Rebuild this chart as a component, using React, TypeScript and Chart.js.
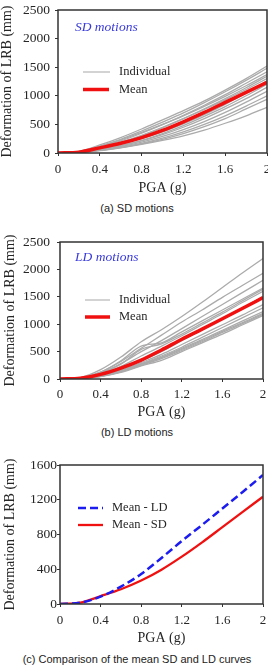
import React, { useEffect, useRef } from "react";
import { Chart, registerables } from "chart.js";

Chart.register(...registerables);

// PGA sampling points (g)
const pga = [0, 0.2, 0.4, 0.6, 0.8, 1.0, 1.2, 1.4, 1.6, 1.8, 2.0];
const pgaTickLabels = ["0", "0.4", "0.8", "1.2", "1.6", "2"];
const deformTickLabels = ["0", "500", "1000", "1500", "2000", "2500"];
const compareTickLabels = ["0", "400", "800", "1200", "1600"];

// LRB deformation (mm) under each short-duration record
const sdMotions = [
  [0, 30, 140, 270, 420, 580, 740, 910, 1100, 1300, 1520],
  [0, 25, 120, 240, 385, 540, 700, 880, 1070, 1270, 1480],
  [0, 20, 100, 210, 345, 495, 660, 835, 1020, 1220, 1420],
  [0, 25, 115, 230, 360, 500, 650, 815, 990, 1175, 1370],
  [0, 15, 80, 180, 300, 440, 600, 770, 950, 1140, 1340],
  [0, 20, 90, 190, 310, 450, 600, 760, 930, 1110, 1300],
  [0, 15, 70, 150, 250, 370, 510, 670, 850, 1050, 1260],
  [0, 10, 60, 130, 220, 340, 480, 640, 810, 1000, 1200],
  [0, 10, 55, 125, 210, 320, 450, 600, 770, 950, 1150],
  [0, 10, 50, 110, 190, 290, 410, 550, 710, 890, 1080],
  [0, 10, 45, 100, 170, 260, 370, 500, 650, 820, 1000],
  [0, 10, 45, 95, 160, 240, 340, 460, 600, 770, 940],
  [0, 10, 40, 90, 150, 220, 300, 400, 520, 650, 800],
];

// LRB deformation (mm) under each long-duration record
const ldMotions = [
  [0, 25, 170, 400, 680, 900, 1140, 1400, 1670, 1940, 2200],
  [0, 20, 130, 320, 560, 800, 1040, 1260, 1490, 1710, 1930],
  [0, 15, 110, 280, 500, 700, 920, 1140, 1360, 1580, 1800],
  [0, 20, 120, 330, 600, 660, 860, 1060, 1260, 1460, 1660],
  [0, 15, 100, 270, 540, 640, 820, 1020, 1220, 1430, 1640],
  [0, 15, 90, 230, 420, 600, 790, 990, 1190, 1400, 1600],
  [0, 10, 70, 180, 330, 500, 700, 900, 1100, 1300, 1500],
  [0, 10, 60, 160, 300, 450, 630, 810, 990, 1170, 1360],
  [0, 10, 60, 150, 280, 420, 580, 760, 940, 1120, 1300],
  [0, 10, 55, 140, 270, 400, 560, 720, 890, 1060, 1230],
  [0, 10, 50, 130, 260, 390, 540, 700, 870, 1030, 1200],
  [0, 10, 50, 130, 250, 370, 520, 680, 850, 1010, 1180],
  [0, 10, 45, 120, 240, 340, 500, 660, 820, 990, 1160],
];

const sdMean = [0, 15, 90, 170, 270, 395, 545, 710, 885, 1060, 1235];
const ldMean = [0, 15, 85, 200, 345, 530, 725, 910, 1100, 1290, 1485];

const SERIF = '"Liberation Serif", "Times New Roman", Times, serif';
const SANS = '"Liberation Sans", Arial, Helvetica, sans-serif';
const INK = "#262626";
const GRAY = "#ababab";
const RED = "#f01010";
const BLUE = "#1c1cf0";
const NOTE_BLUE = "#3a3ad8";

const toPoints = (ys: number[]) => ys.map((y, i) => ({ x: pga[i], y }));

type Inset =
  | { kind: "line"; x1: number; x2: number; y: number; color: string; width: number; dash?: number[] }
  | { kind: "text"; x: number; y: number; text: string; color: string; font: string };

// Draws the full plot frame plus the in-plot key and note (offsets from the plot's top-left corner)
function framePlugin(items: Inset[]) {
  return {
    id: "frameAndKey",
    afterDatasetsDraw(chart: Chart) {
      const { ctx, chartArea: a } = chart;
      ctx.save();
      ctx.strokeStyle = "#333333";
      ctx.lineWidth = 1.5;
      ctx.setLineDash([]);
      ctx.strokeRect(a.left, a.top, a.right - a.left, a.bottom - a.top);
      for (const it of items) {
        if (it.kind === "line") {
          ctx.beginPath();
          ctx.strokeStyle = it.color;
          ctx.lineWidth = it.width;
          ctx.setLineDash(it.dash || []);
          ctx.moveTo(a.left + it.x1, a.top + it.y);
          ctx.lineTo(a.left + it.x2, a.top + it.y);
          ctx.stroke();
        } else {
          ctx.setLineDash([]);
          ctx.fillStyle = it.color;
          ctx.font = it.font;
          ctx.textAlign = "left";
          ctx.textBaseline = "middle";
          ctx.fillText(it.text, a.left + it.x, a.top + it.y);
        }
      }
      ctx.restore();
    },
  };
}

type PanelSpec = {
  datasets: any[];
  yMax: number;
  yStep: number;
  yLabels: string[];
  padTop: number;
  padRight: number;
  yWidth: number;
  xHeight: number;
  yTickPad: number;
  xTickPad: number;
  yTitlePad: number;
  xTitlePad: number;
  insets: Inset[];
};

function buildConfig(p: PanelSpec): any {
  const tickGrid = {
    display: true,
    drawOnChartArea: false,
    drawTicks: true,
    tickLength: 3,
    color: "#333333",
    lineWidth: 1,
  };
  return {
    type: "line",
    data: { datasets: p.datasets },
    plugins: [framePlugin(p.insets)],
    options: {
      responsive: false,
      animation: false,
      events: [],
      layout: { padding: { top: p.padTop, right: p.padRight, left: 0, bottom: 0 } },
      plugins: { legend: { display: false }, tooltip: { enabled: false } },
      elements: { point: { radius: 0 } },
      scales: {
        x: {
          type: "linear",
          min: 0,
          max: 2,
          offset: false,
          grid: tickGrid,
          border: { display: false },
          ticks: {
            stepSize: 0.4,
            padding: p.xTickPad,
            color: INK,
            font: { family: SERIF, size: 13 },
            maxRotation: 0,
            autoSkip: false,
            callback: (_v: any, i: number) => pgaTickLabels[i],
          },
          title: {
            display: true,
            text: "PGA (g)",
            color: INK,
            font: { family: SERIF, size: 14, lineHeight: 1 },
            padding: { top: 0, bottom: p.xTitlePad },
          },
          afterFit: (s: any) => {
            s.height = p.xHeight;
            s.paddingLeft = 0;
            s.paddingRight = 0;
          },
        },
        y: {
          min: 0,
          max: p.yMax,
          grid: tickGrid,
          border: { display: false },
          ticks: {
            stepSize: p.yStep,
            padding: p.yTickPad,
            color: INK,
            font: { family: SERIF, size: 13.5 },
            callback: (_v: any, i: number) => p.yLabels[i],
          },
          title: {
            display: true,
            text: "Deformation of LRB (mm)",
            color: INK,
            font: { family: SERIF, size: 14, lineHeight: 1 },
            padding: { top: p.yTitlePad, bottom: 0 },
          },
          afterFit: (s: any) => {
            s.width = p.yWidth;
            s.paddingTop = 0;
            s.paddingBottom = 0;
          },
        },
      },
    },
  };
}

function Panel({ top, height, spec }: { top: number; height: number; spec: PanelSpec }) {
  const ref = useRef<HTMLCanvasElement | null>(null);
  useEffect(() => {
    if (!ref.current) return;
    const chart = new Chart(ref.current, buildConfig(spec));
    return () => chart.destroy();
  }, []);
  return (
    <canvas
      ref={ref}
      width={268}
      height={height}
      style={{ position: "absolute", left: 0, top, width: 268, height, display: "block" }}
    />
  );
}

function Caption({ top, text }: { top: number; text: string }) {
  return (
    <div
      style={{
        position: "absolute",
        left: 0,
        top,
        width: 274,
        textAlign: "center",
        fontFamily: SANS,
        fontSize: 11,
        lineHeight: "14px",
        color: "#222222",
        whiteSpace: "nowrap",
      }}
    >
      {text}
    </div>
  );
}

const individualStyle = (ys: number[]) => ({
  data: toPoints(ys),
  borderColor: GRAY,
  borderWidth: 1.3,
  cubicInterpolationMode: "monotone",
  pointRadius: 0,
  order: 1,
});

const meanStyle = (ys: number[]) => ({
  data: toPoints(ys),
  borderColor: RED,
  borderWidth: 3.5,
  cubicInterpolationMode: "monotone",
  pointRadius: 0,
  order: 0,
});

const keyFont = `12.5px ${SERIF}`;
const noteFont = `italic 13.5px ${SERIF}`;

const sdSpec: PanelSpec = {
  datasets: [meanStyle(sdMean), ...sdMotions.map(individualStyle)],
  yMax: 2500,
  yStep: 500,
  yLabels: deformTickLabels,
  padTop: 10,
  padRight: 1,
  yWidth: 58,
  xHeight: 44,
  yTickPad: 5,
  xTickPad: 6,
  yTitlePad: 0,
  xTitlePad: 2,
  insets: [
    { kind: "text", x: 17, y: 17, text: "SD motions", color: NOTE_BLUE, font: noteFont },
    { kind: "line", x1: 25, x2: 52, y: 62, color: "#c4c4c4", width: 1.5 },
    { kind: "text", x: 61, y: 62, text: "Individual", color: INK, font: keyFont },
    { kind: "line", x1: 25, x2: 51, y: 79.5, color: RED, width: 3.5 },
    { kind: "text", x: 61, y: 79.5, text: "Mean", color: INK, font: keyFont },
  ],
};

const ldSpec: PanelSpec = {
  datasets: [meanStyle(ldMean), ...ldMotions.map(individualStyle)],
  yMax: 2500,
  yStep: 500,
  yLabels: deformTickLabels,
  padTop: 10,
  padRight: 5,
  yWidth: 60,
  xHeight: 42,
  yTickPad: 7,
  xTickPad: 5,
  yTitlePad: 3,
  xTitlePad: 2,
  insets: [
    { kind: "text", x: 15, y: 15, text: "LD motions", color: NOTE_BLUE, font: noteFont },
    { kind: "line", x1: 25, x2: 50, y: 58, color: "#c4c4c4", width: 1.5 },
    { kind: "text", x: 59, y: 58, text: "Individual", color: INK, font: keyFont },
    { kind: "line", x1: 25, x2: 50, y: 75, color: RED, width: 3.5 },
    { kind: "text", x: 59, y: 75, text: "Mean", color: INK, font: keyFont },
  ],
};

const compareSpec: PanelSpec = {
  datasets: [
    {
      data: toPoints(ldMean),
      borderColor: BLUE,
      borderWidth: 2.5,
      borderDash: [8, 4],
      cubicInterpolationMode: "monotone",
      pointRadius: 0,
      order: 0,
    },
    {
      data: toPoints(sdMean),
      borderColor: RED,
      borderWidth: 2.3,
      cubicInterpolationMode: "monotone",
      pointRadius: 0,
      order: 1,
    },
  ],
  yMax: 1600,
  yStep: 400,
  yLabels: compareTickLabels,
  padTop: 10,
  padRight: 5,
  yWidth: 60,
  xHeight: 43,
  yTickPad: 0,
  xTickPad: 6,
  yTitlePad: 3,
  xTitlePad: 2,
  insets: [
    { kind: "line", x1: 18, x2: 43, y: 43, color: BLUE, width: 2.5, dash: [8, 4] },
    { kind: "text", x: 52, y: 43, text: "Mean - LD", color: INK, font: keyFont },
    { kind: "line", x1: 18, x2: 43, y: 60, color: RED, width: 2.3 },
    { kind: "text", x: 52, y: 60, text: "Mean - SD", color: INK, font: keyFont },
  ],
};

export default function App() {
  return (
    <div
      style={{
        position: "absolute",
        left: 0,
        top: 0,
        width: 268,
        height: 665,
        background: "#ffffff",
        overflow: "hidden",
      }}
    >
      <Panel top={0} height={197} spec={sdSpec} />
      <Caption top={201} text="(a) SD motions" />
      <Panel top={232} height={189} spec={ldSpec} />
      <Caption top={425} text="(b) LD motions" />
      <Panel top={455} height={192} spec={compareSpec} />
      <Caption top={652} text="(c) Comparison of the mean SD and LD curves" />
    </div>
  );
}
